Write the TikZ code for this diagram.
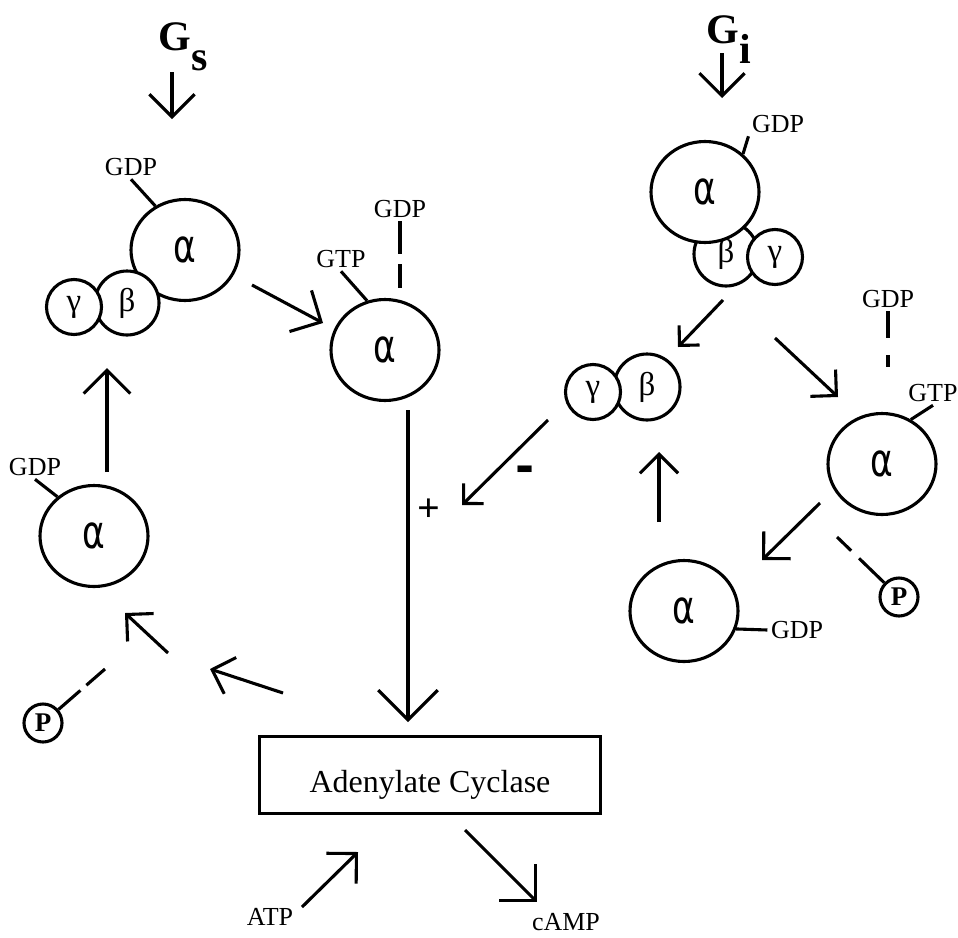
\documentclass[tikz,border=0pt]{standalone}
\usepackage{fontspec}
\setmainfont{Liberation Serif}
\newfontfamily\alffont{DejaVu Sans}
\usetikzlibrary{arrows.meta,shapes.geometric}
\newcommand{\alp}{\scalebox{0.75}[1]{α}}

\begin{document}
\begin{tikzpicture}[x=1pt, y=-1pt, line width=3.1pt,
  every node/.style={inner sep=2pt},
  arr/.style={-{Straight Barb[angle=90:#1]}}, arr/.default=30pt,
  big/.style={draw, ellipse, fill=white, minimum width=108pt, minimum height=101pt, inner sep=0pt, font=\alffont\fontsize{46}{46}\selectfont},
  sub/.style={draw, circle, fill=white, minimum size=#1, inner sep=0pt, font=\fontsize{33}{33}\selectfont},
  lbl/.style={font=\fontsize{26}{26}\selectfont},
  pho/.style={draw, circle, minimum size=38pt, inner sep=0pt, font=\bfseries\fontsize{27}{27}\selectfont},
  gname/.style={anchor=base west, inner sep=0pt, font=\bfseries\fontsize{42}{42}\selectfont}]
  \useasboundingbox (0,0) rectangle (958,937);

  \node[gname] (gs) at (157,50) {G\raisebox{-20pt}{s}};
  \node[gname] (gi) at (705,43) {G\raisebox{-20pt}{i}};

  \node[big] (sa) at (185,250) {\alp};
  \node[sub=64pt] (sb) at (127,303) {β};
  \node[sub=55pt] (sg) at (74,307) {γ};
  \node[big] (st) at (385,350) {\alp};
  \node[big] (sd) at (94,536) {\alp};
  \node[pho] (sp) at (43,723) {P};

  \node[sub=64pt] (ib) at (726,254) {β};
  \node[sub=55pt] (ig) at (775,257) {γ};
  \node[big] (ia) at (705,192) {\alp};
  \node[sub=66pt] (fb) at (647,387) {β};
  \node[sub=55pt] (fg) at (593,392) {γ};
  \node[big] (it) at (882,464) {\alp};
  \node[big] (id) at (684,611) {\alp};
  \node[pho] (ip) at (899,597) {P};

  \node[draw, line width=2.8pt, minimum width=341pt, minimum height=77pt, text height=40pt, text depth=6pt,
    font=\fontsize{32}{32}\selectfont] (ac) at (430,775) {Adenylate Cyclase};

  \node[lbl] (sgdp) at (131,167) {GDP};
  \node[lbl] (stgtp) at (341,259) {GTP};
  \node[lbl] (stgdp) at (400,209) {GDP};
  \node[lbl] (sdgdp) at (35,467) {GDP};
  \node[lbl] (igdp) at (778,124) {GDP};
  \node[lbl] (itgdp) at (888,299) {GDP};
  \node[lbl] (itgtp) at (933,393) {GTP};
  \node[lbl] (idgdp) at (797,630) {GDP};
  \node[lbl] (atp) at (270,917) {ATP};
  \node[lbl] (camp) at (566,922) {cAMP};
  \node[font=\bfseries\fontsize{40}{40}\selectfont] (plus) at (429,510) {+};
  \node[font=\alffont\bfseries\fontsize{46}{46}\selectfont] (minus) at (525,474) {-};

  \draw (sa.124) -- (sgdp.south);
  \draw (st.110) -- (stgtp.south);
  \draw (sd.133) -- (sdgdp.south);
  \draw (ia.45) -- (igdp.south west);
  \draw (it.57) -- (itgtp.south);
  \draw (id.-19) -- (idgdp.west);
  \draw[dash pattern=on 33pt off 10pt, shorten >=10pt] (stgdp.south) -- (stgdp.south |- st.north);
  \draw[dash pattern=on 27pt off 17pt, shorten >=45pt] (itgdp.south) -- (itgdp.south |- it.north);

  \coordinate (spend) at (105,669);
  \coordinate (ipend) at (837,537);
  \draw[dash pattern=on 29pt off 8pt] (sp) -- (spend);
  \draw[dash pattern=on 35pt off 11pt] (ip) -- (ipend);

  \coordinate (a1) at (172,72);   \coordinate (b1) at (172,119);
  \coordinate (a2) at (252,285);  \coordinate (b2) at (323,323);
  \coordinate (a3) at (408,410);  \coordinate (b3) at (408,722);
  \coordinate (a4) at (107,472);  \coordinate (b4) at (107,368);
  \coordinate (a5) at (168,653);  \coordinate (b5) at (125,613);
  \coordinate (a6) at (283,693);  \coordinate (b6) at (210,669);
  \coordinate (a7) at (302,907);  \coordinate (b7) at (358,852);
  \coordinate (a8) at (465,830);  \coordinate (b8) at (537,902);
  \coordinate (a9) at (722,53);   \coordinate (b9) at (722,98);
  \coordinate (a10) at (723,300); \coordinate (b10) at (678,347);
  \coordinate (a11) at (775,338); \coordinate (b11) at (838,397);
  \coordinate (a12) at (548,420); \coordinate (b12) at (462,505);
  \coordinate (a13) at (659,522); \coordinate (b13) at (659,452);
  \coordinate (a14) at (820,503); \coordinate (b14) at (762,560);

  \draw[arr=32pt] (a1) -- (b1);
  \draw[arr=33pt] (a2) -- (b2);
  \draw[arr=42pt] (a3) -- (b3);
  \draw[arr=33pt] (a4) -- (b4);
  \draw[arr=27pt] (a5) -- (b5);
  \draw[arr=27pt] (a6) -- (b6);
  \draw[arr=30pt] (a7) -- (b7);
  \draw[arr=36pt] (a8) -- (b8);
  \draw[arr=32pt] (a9) -- (b9);
  \draw[arr=20pt] (a10) -- (b10);
  \draw[arr=26pt] (a11) -- (b11);
  \draw[arr=20pt] (a12) -- (b12);
  \draw[arr=27pt] (a13) -- (b13);
  \draw[arr=27pt] (a14) -- (b14);
\end{tikzpicture}
\end{document}
